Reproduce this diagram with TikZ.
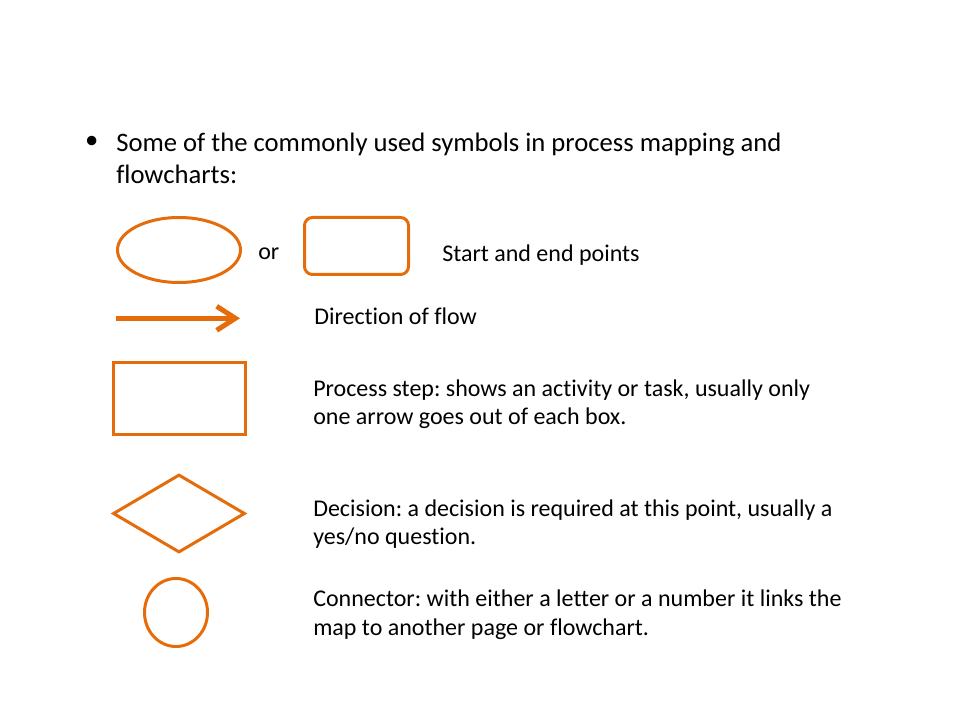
\documentclass[tikz,border=0pt]{standalone}
\usepackage{fontspec}
\setmainfont{Carlito}[Ligatures=NoCommon]
\usetikzlibrary{shapes.geometric,arrows.meta}
\definecolor{flow}{HTML}{E46C0A}
\frenchspacing

\begin{document}
\begin{tikzpicture}[x=0.75pt,y=-0.75pt,
  sym/.style={draw=flow,line width=2.25pt,inner sep=0pt},
  lbl/.style={anchor=base west,inner sep=0pt,align=left,font=\fontsize{18}{21.3}\selectfont},
  big/.style={anchor=base west,inner sep=0pt,align=left,font=\fontsize{20}{24}\selectfont}]
\useasboundingbox (0,0) rectangle (960,720);
\node (dot) at (91.7,142.7) {\fontsize{20}{24}\selectfont\textbullet};
\node[big] (intro) at (116,183.3) {Some of the commonly used symbols in process mapping and\\flowcharts:};
\node[sym,ellipse,minimum width=92.25pt,minimum height=48.75pt] (oval) at (179,250) {};
\node[lbl] (or) at (258,260) {or};
\node[sym,rectangle,rounded corners=6pt,minimum width=78pt,minimum height=42.75pt] (term) at (356.5,246) {};
\node[lbl] (start) at (442,261.7) {Start and end points};
\coordinate (a) at (116,318.3);
\coordinate (b) at (240,318.3);
\draw[flow,line width=3.75pt,-{Straight Barb[length=14pt,width=18pt]}] (a) -- (b);
\node[lbl] (dir) at (314,325) {Direction of flow};
\node[sym,rectangle,minimum width=99pt,minimum height=54pt] (proc) at (179,398) {};
\node[lbl] (step) at (313,424.4) {Process step: shows an activity or task, usually only\\one arrow goes out of each box.};
\node[sym,diamond,minimum width=99pt,minimum height=58.5pt] (dec) at (179,513.5) {};
\node[lbl] (decision) at (313,544.4) {Decision: a decision is required at this point, usually a\\yes/no question.};
\node[sym,ellipse,minimum width=47.25pt,minimum height=51pt] (conn) at (176,612.5) {};
\node[lbl] (connector) at (313,635.1) {Connector: with either a letter or a number it links the\\map to another page or flowchart.};
\end{tikzpicture}
\end{document}
